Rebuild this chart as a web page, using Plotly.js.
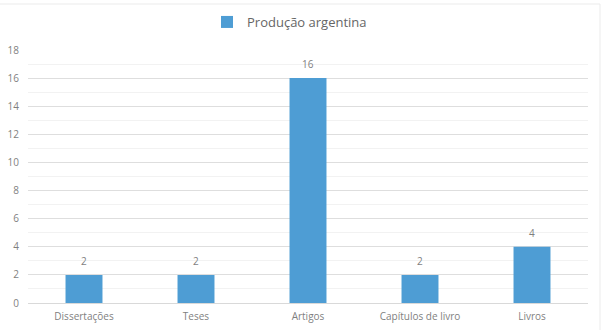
<!DOCTYPE html>
<html><head><meta charset="utf-8">
<script src="https://cdn.plot.ly/plotly-3.0.1.min.js"></script>
<style>html,body{margin:0;padding:0;background:#fff}#c{width:603px;height:330px}</style>
</head><body><div id="c"></div>
<script>
const categories = ["Dissertações", "Teses", "Artigos", "Capítulos de livro", "Livros"];
const values = [2, 2, 16, 2, 4];
const seriesName = "Produção argentina";
const yTicks = [0, 2, 4, 6, 8, 10, 12, 14, 16, 18];

const FONT = "Open Sans, sans-serif";
const data = [{
  type: "bar", x: categories, y: values, name: seriesName,
  marker: {color: "#4e9dd4"}, width: 0.33,
  hoverinfo: "none"
}];
const annotations = categories.map((c, i) => ({
  x: c, y: values[i], xref: "x", yref: "y", text: String(values[i]),
  showarrow: false, yanchor: "bottom", yshift: 5,
  font: {family: FONT, size: 10, color: "#7f7f7f"}
}));
const layout = {
  width: 603, height: 330,
  margin: {l: 28, r: 15, t: 50, b: 27},
  paper_bgcolor: "#fff", plot_bgcolor: "#fff",
  font: {family: FONT, color: "#7f7f7f", size: 10},
  showlegend: true,
  legend: {orientation: "h", x: 0.467, xanchor: "center", y: 1 - 22/330, yref: "container", yanchor: "middle",
           font: {size: 13, color: "#666666"}, itemwidth: 30},
  xaxis: {showgrid: false, zeroline: false, showline: true, linecolor: "#d9d9d9", linewidth: 1,
          tickfont: {size: 10, color: "#7f7f7f"}, ticks: "", ticklabelstandoff: 4},
  yaxis: {range: [0, 18], tickvals: yTicks, ticktext: yTicks.map(String), showgrid: true, gridcolor: "#dedede",
          zeroline: false, showline: false, tickfont: {size: 10, color: "#7f7f7f"}, ticks: "",
          ticklabelstandoff: 8,
          minor: {dtick: 1, showgrid: true, gridcolor: "#f2f2f2"}},
  annotations: annotations,
  shapes: [{type: "rect", xref: "paper", yref: "paper",
            x0: -40/560, x1: 1 + 12/560, y0: -40/253, y1: 1 + 46/253,
            line: {color: "#ebebeb", width: 1}}]
};
Plotly.newPlot("c", data, layout, {displayModeBar: false, staticPlot: true});
</script></body></html>
